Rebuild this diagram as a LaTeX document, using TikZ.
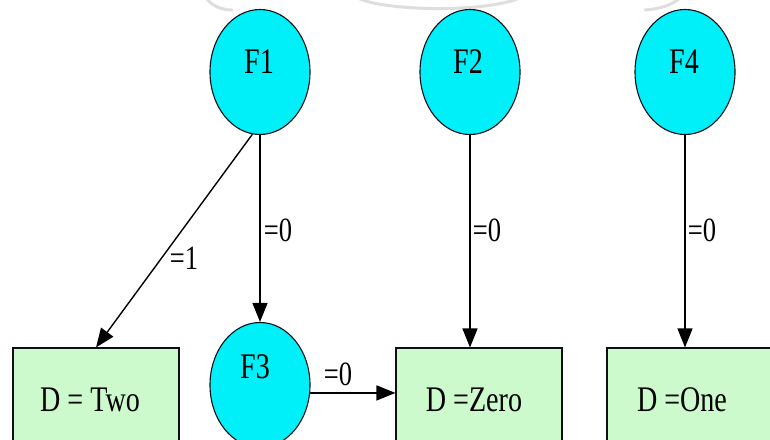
\documentclass[tikz,border=0pt]{standalone}
\usepackage{fontspec}
\setmainfont[FakeStretch=0.78]{Liberation Serif}
\usetikzlibrary{arrows.meta,shapes.geometric}
\definecolor{nodecyan}{RGB}{0,240,250}
\definecolor{leafgreen}{RGB}{204,250,204}
\definecolor{edgegray}{RGB}{15,15,25}
\definecolor{fadegray}{RGB}{222,222,222}
\begin{document}
\begin{tikzpicture}[x=1pt,y=-1pt,
  feature/.style={ellipse,draw=edgegray,fill=nodecyan,line width=1.1pt,
    minimum width=100pt,minimum height=125pt,inner sep=0pt},
  leaf/.style={rectangle,draw=edgegray,fill=leafgreen,line width=1.1pt,
    minimum width=166pt,minimum height=130pt,inner sep=0pt},
  ftext/.style={font=\fontsize{36}{38}\selectfont,inner sep=0pt},
  link/.style={draw=black,line width=1.4pt,
    -{Triangle[length=19pt,width=15pt]}},
  lbl/.style={font=\fontsize{34}{36}\selectfont,inner sep=0pt},
  faint/.style={draw=fadegray,line width=3pt,line cap=round}]
\useasboundingbox (0,0) rectangle (770,439);
\clip (0,0) rectangle (770,439);
\fill[white] (0,0) rectangle (770,439);

% faint strokes along the top edge
\draw[faint] (206,-2) .. controls (212,6) and (222,10) .. (232,10);
\draw[faint] (358,-2) .. controls (380,10) and (480,14) .. (520,-2);
\draw[faint] (645,10) .. controls (660,9) and (672,5) .. (680,-2);

% leaves (their lower part runs past the frame)
\node[leaf] (two)  at (96,413)  {};
\node[leaf] (zero) at (479,413) {};
\node[leaf] (one)  at (690,413) {};
\node[ftext] (twot)  at (90,400)  {D = Two};
\node[ftext] (zerot) at (474,400) {D =Zero};
\node[ftext] (onet)  at (682,400) {D =One};

% tests
\node[feature] (F1) at (260,72) {};
\node[feature] (F2) at (470,72) {};
\node[feature] (F4) at (685,72) {};
\node[feature] (F3) at (260,385) {};
\node[ftext] (F1t) at (259,62) {F1};
\node[ftext] (F2t) at (468,62) {F2};
\node[ftext] (F4t) at (684,62) {F4};
\node[ftext] (F3t) at (255,367) {F3};

% branches
\draw[link] (F1.263) -- (two.north);
\draw[link] (F1.south) -- (F3.north);
\draw[link] (F2.south) -- (zero.north -| F2.south);
\draw[link] (F4.south) -- (one.north -| F4.south);
\draw[link] (F3.-9) -- (zero.west |- F3.-9);

\node[lbl] (l1)  at (184,258) {=1};
\node[lbl] (l2)  at (278,230) {=0};
\node[lbl] (l3)  at (487,230) {=0};
\node[lbl] (l4)  at (702,230) {=0};
\node[lbl] (l5)  at (338,374) {=0};
\end{tikzpicture}
\end{document}
